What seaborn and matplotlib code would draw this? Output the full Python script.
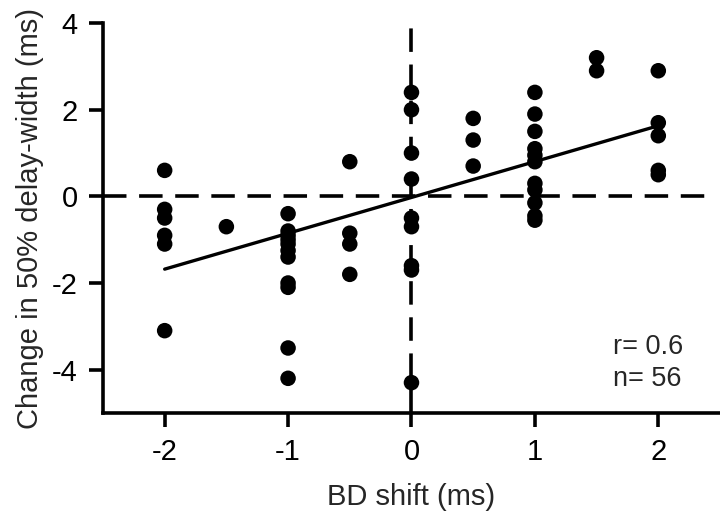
import matplotlib
matplotlib.use("Agg")
import matplotlib.pyplot as plt
import seaborn as sns
import numpy as np
import pandas as pd

bd_shift = ([-2.0] * 6 + [-1.5] + [-1.0] * 11 + [-0.5] * 4 + [0.0] * 9 +
            [0.5] * 3 + [1.0] * 11 + [1.5] * 2 + [2.0] * 5)
delay_change = [0.6, -0.3, -0.5, -0.9, -1.1, -3.1,
                -0.7,
                -0.4, -0.8, -0.9, -1.0, -1.1, -1.25, -1.4, -2.0, -2.1, -3.5, -4.2,
                0.8, -0.85, -1.1, -1.8,
                2.4, 2.0, 1.0, 0.4, -0.5, -0.7, -1.6, -1.7, -4.3,
                1.8, 1.3, 0.7,
                2.4, 1.9, 1.5, 1.1, 0.95, 0.8, 0.3, 0.15, -0.15, -0.45, -0.55,
                3.2, 2.9,
                2.9, 1.7, 1.4, 0.6, 0.5]
fit_x = [-2.0, 2.0]
fit_y = [-1.68, 1.63]
xticks = [-2, -1, 0, 1, 2]
yticks = [-4, -2, 0, 2, 4]
stats_text = "r= 0.6\nn= 56"

df = pd.DataFrame({"x": bd_shift, "y": delay_change})
fit = pd.DataFrame({"x": fit_x, "y": fit_y})

sns.set_theme(style="ticks")
plt.rcParams['font.family'] = ['Liberation Sans', 'DejaVu Sans']

fig = plt.figure(figsize=(7.2, 5.13), dpi=100)
ax = fig.add_axes([0.143, 0.195, 0.857, 0.76])

ax.axhline(0, xmin=0, xmax=0.975, color="black", lw=2.6, dashes=(6.5, 3.5), zorder=1)
ax.axvline(0, ymin=0, ymax=0.995, color="black", lw=2.6, dashes=(6.5, 3.5), zorder=1)

sns.scatterplot(data=df, x="x", y="y", ax=ax, color="black", s=125,
                edgecolor="none", zorder=3)
sns.lineplot(data=fit, x="x", y="y", ax=ax, color="black", lw=2.4, zorder=2)

ax.set_xlim(-2.5, 2.5)
ax.set_ylim(-5, 4)
ax.set_xticks(xticks)
ax.set_xticklabels([str(t) for t in xticks])
ax.set_yticks(yticks)
ax.set_yticklabels([str(t) for t in yticks])
ax.tick_params(direction="out", length=10, width=2.6, labelsize=21, colors="black", pad=8)

for side in ["top", "right"]:
    ax.spines[side].set_visible(False)
for side in ["left", "bottom"]:
    ax.spines[side].set_linewidth(2.6)
    ax.spines[side].set_color("black")
ax.spines["left"].set_bounds(-5, 4)

ax.set_xlabel("BD shift (ms)", fontsize=21, labelpad=12)
ax.set_ylabel("Change in 50% delay-width (ms)", fontsize=21, labelpad=6)

ax.text(1.63, -3.85, stats_text, fontsize=19.5, ha="left", va="center", linespacing=1.32)

fig.savefig("out.png", dpi=100)
